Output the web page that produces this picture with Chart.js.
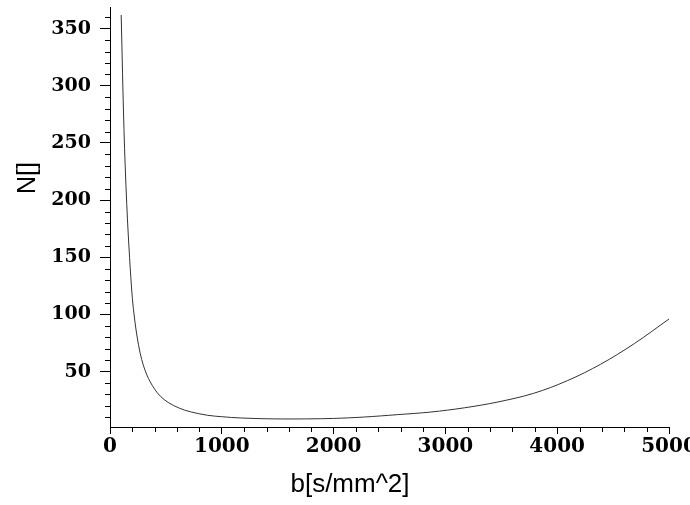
<!DOCTYPE html>
<html>
<head>
<meta charset="utf-8">
<script src="https://cdn.jsdelivr.net/npm/chart.js@4"></script>
<style>
  body { margin: 0; background: #fff; }
  #wrap { width: 690px; height: 505px; position: relative; }
</style>
</head>
<body>
<div id="wrap"><canvas id="myCanvas"></canvas></div>
<script>
// b values [s/mm^2] and N
const bValues = [100, 125, 150, 175, 200, 220, 240, 270, 300, 330, 360, 400, 450, 520, 620,
    720, 870, 1000, 1170, 1460, 1760, 2000, 2270, 2570, 2870, 3170, 3470, 3790, 4090, 4390, 4690, 5000];
const nValues = [362, 262, 196, 150, 114, 96, 82, 66, 55, 47, 41, 34.5, 28.5, 23, 18,
    14.8, 11.8, 10.5, 9.4, 8.6, 8.6, 9, 10.2, 12.3, 14.6, 18.3, 23.4, 31, 42, 56.5, 74.5, 96];

const xTicks = [0, 1000, 2000, 3000, 4000, 5000];
const yTicks = [50, 100, 150, 200, 250, 300, 350];

const xMinor = [];
for (let v = 200; v < 5000; v += 200) if (v % 1000 !== 0) xMinor.push(v);
const yMinor = [];
for (let v = 10; v <= 360; v += 10) if (v % 50 !== 0) yMinor.push(v);

const xTitle = "b[s/mm^2]";
const yTitle = "N[]";

const points = bValues.map((b, i) => ({ x: b, y: nValues[i] }));

const extras = {
    id: "extras",
    afterDraw(chart) {
        const ctx = chart.ctx;
        const x = chart.scales.x;
        const y = chart.scales.y;
        ctx.save();
        ctx.strokeStyle = "#000";
        ctx.lineWidth = 1;
        ctx.beginPath();
        xMinor.forEach(v => {
            const px = Math.round(x.getPixelForValue(v)) + 0.5;
            ctx.moveTo(px, x.top);
            ctx.lineTo(px, x.top + 5);
        });
        yMinor.forEach(v => {
            const py = Math.round(y.getPixelForValue(v)) + 0.5;
            ctx.moveTo(y.right - 5, py);
            ctx.lineTo(y.right, py);
        });
        ctx.stroke();

        // axis titles
        ctx.fillStyle = "#000";
        ctx.textAlign = "center";
        ctx.textBaseline = "alphabetic";
        ctx.font = "26px 'Liberation Sans'";
        ctx.fillText(xTitle, 350, 492);
        ctx.translate(35, 178);
        ctx.rotate(-Math.PI / 2);
        ctx.font = "25px 'Liberation Sans'";
        ctx.fillText(yTitle, 0, 0);
        ctx.restore();
    }
};

let myChart = new Chart(document.getElementById("myCanvas"), {
    type: "line",
    plugins: [extras],
    data: {
        datasets: [{
            data: points,
            borderColor: "#333",
            borderWidth: 1,
            pointRadius: 0,
            fill: false,
            tension: 0.35
        }]
    },
    options: {
        responsive: true,
        maintainAspectRatio: false,
        animation: false,
        layout: { padding: { top: 7, right: 21, left: 0, bottom: 0 } },
        plugins: {
            legend: { display: false },
            tooltip: { enabled: false }
        },
        scales: {
            x: {
                type: "linear",
                min: 0,
                max: 5000,
                afterBuildTicks: s => { s.ticks = xTicks.map(v => ({ value: v })); },
                afterFit: s => { s.height = 78; s.paddingLeft = 0; s.paddingRight = 0; },
                grid: { drawOnChartArea: false, drawTicks: true, tickLength: 7, tickColor: "#000" },
                border: { display: true, color: "#000", width: 1 },
                ticks: {
                    color: "#000",
                    font: { family: "DejaVu Serif", weight: "bold", size: 20 },
                    padding: 1,
                    maxRotation: 0,
                    autoSkip: false,
                    callback: v => String(v)
                }
            },
            y: {
                type: "linear",
                min: 1.5,
                max: 369,
                afterBuildTicks: s => { s.ticks = yTicks.map(v => ({ value: v })); },
                afterFit: s => { s.width = 110; s.paddingTop = 0; s.paddingBottom = 0; },
                grid: { drawOnChartArea: false, drawTicks: true, tickLength: 10, tickColor: "#000" },
                border: { display: true, color: "#000", width: 1 },
                ticks: {
                    color: "#000",
                    font: { family: "DejaVu Serif", weight: "bold", size: 19 },
                    padding: 9,
                    autoSkip: false,
                    callback: v => String(v)
                }
            }
        }
    }
});
</script>
</body>
</html>
